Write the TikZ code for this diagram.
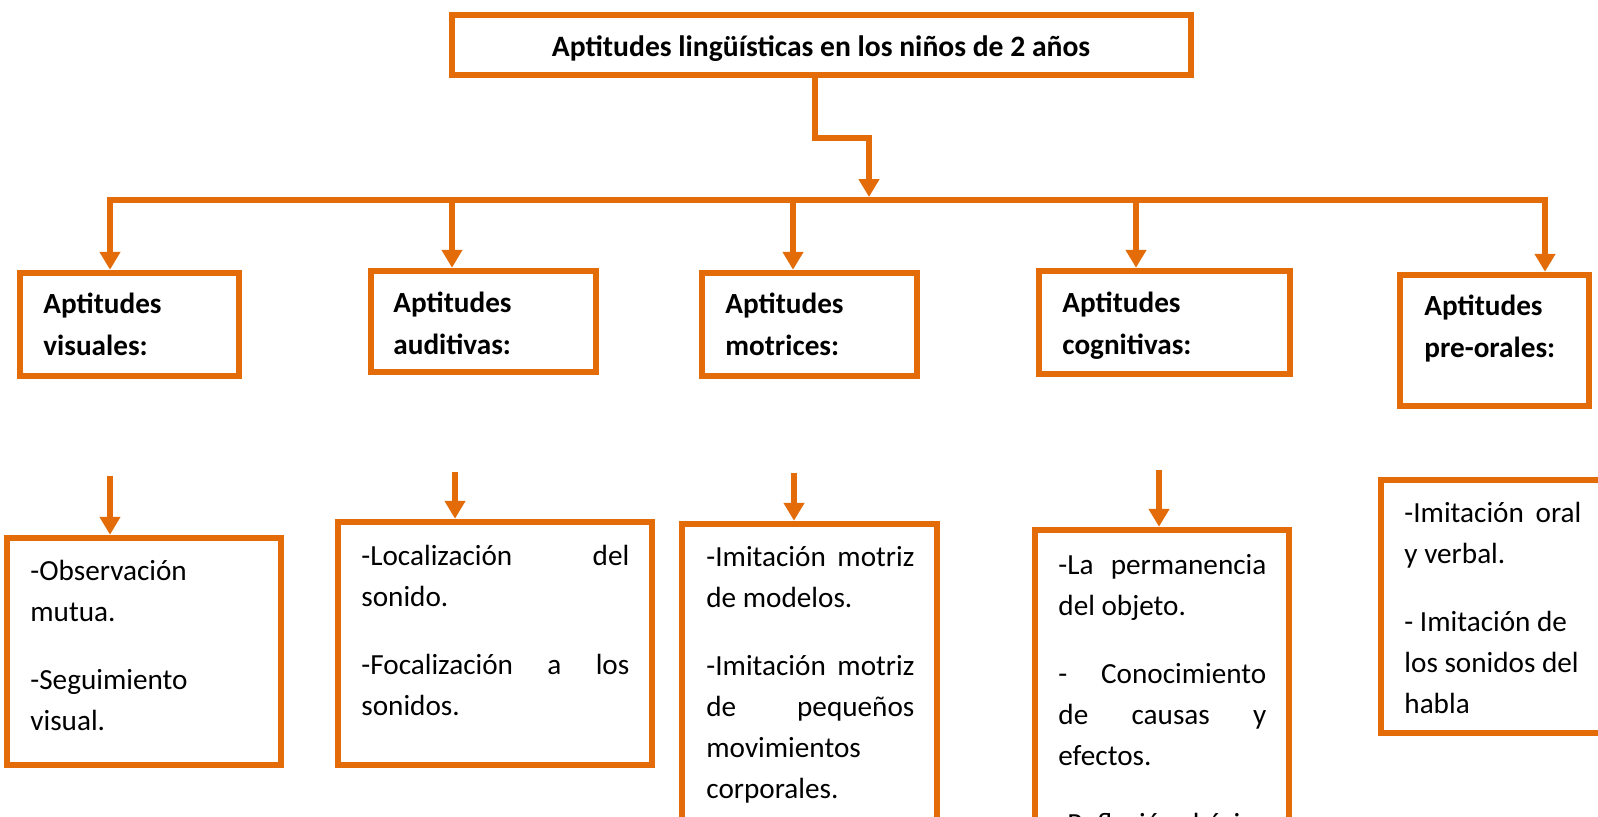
\documentclass[tikz,border=0pt]{standalone}
\usepackage{fontspec}
\setmainfont{Carlito}
\usetikzlibrary{arrows.meta,fit}
\definecolor{ora}{HTML}{E36C09}
\tikzset{
  boxf/.style={draw=ora, line width=3.25pt, inner sep=0pt},
  conn/.style={draw=ora, line width=3pt},
  arr/.style={conn, -{Triangle[width=10pt,length=9pt]}},
  ttl/.style={font=\bfseries\fontsize{14.8pt}{21pt}\selectfont, inner sep=0pt},
  head/.style={anchor=north west, inner sep=0pt, text width=100pt, align=flush left, font=\bfseries\fontsize{14.6pt}{21pt}\selectfont},
  body/.style={anchor=north west, inner sep=0pt, text width=#1, align=flush left, font=\fontsize{14.6pt}{20.5pt}\selectfont},
}
\newcommand\fl{\rule{0pt}{14pt}}
\newcommand\jl[2]{\makebox[#1][l]{#2}}
\begin{document}
\begin{tikzpicture}[x=0.5pt,y=-0.5pt]
\useasboundingbox (0,0) rectangle (1598,816);
\fill[white] (0,0) rectangle (1598,816);
\clip (0,0) rectangle (1598,816);

% boxes
\node[boxf, fit={(452,15) (1191,75)}] (title) {};
\node[boxf, fit={(20,273) (239,376)}] (vis2) {};
\node[boxf, fit={(371,271) (596,372)}] (aud2) {};
\node[boxf, fit={(702,273) (917,376)}] (mot2) {};
\node[boxf, fit={(1039,271) (1290,374)}] (cog2) {};
\node[boxf, fit={(1400,275) (1589,406)}] (pre2) {};
\node[boxf, fit={(7,538) (281,765)}] (vis3) {};
\node[boxf, fit={(338,522) (652,765)}] (aud3) {};
\node[boxf, fit={(682,524) (937,860)}] (mot3) {};
\node[boxf, fit={(1035,530) (1289,860)}] (cog3) {};
\node[boxf, fit={(1381,480) (1650,733)}] (pre3) {};

% texts
\node[ttl, anchor=base] (titlet) at (821,56) {Aptitudes lingüísticas en los niños de 2 años};
\node[head] (vis2t) at (43,285) {\fl Aptitudes\\visuales:};
\node[head] (aud2t) at (393,284) {\fl Aptitudes\\auditivas:};
\node[head] (mot2t) at (725,285) {\fl Aptitudes\\motrices:};
\node[head] (cog2t) at (1062,284) {\fl Aptitudes\\cognitivas:};
\node[head] (pre2t) at (1424,287) {\fl Aptitudes\\pre-orales:};

\node[body=125pt] (vis3t) at (30,552) {\fl\mbox{-Observación}\\mutua.\\[13.5pt]-Seguimiento\\visual.};
\node[body=140pt] (aud3t) at (361,537) {\fl\jl{134pt}{-Localización\hfill del}\\sonido.\\[13.5pt]\jl{134pt}{-Focalización\hfill a\hfill los}\\sonidos.};
\node[body=110pt] (mot3t) at (706,538) {\fl\jl{104pt}{-Imitación\hfill motriz}\\\mbox{de modelos.}\\[13.5pt]\jl{104pt}{-Imitación\hfill motriz}\\\jl{104pt}{de\hfill pequeños}\\movimientos\\corporales.};
\node[body=110pt] (cog3t) at (1058,546) {\fl\jl{104pt}{-La\hfill permanencia}\\\mbox{del objeto.}\\[13.5pt]\jl{104pt}{-\hfill Conocimiento}\\\jl{104pt}{de\hfill causas\hfill y}\\efectos.\\[13.5pt]\jl{104pt}{-Reflexión\hfill básica}};
\node[body=100pt] (pre3t) at (1404,494) {\fl\jl{88.5pt}{-Imitación\hfill oral}\\\mbox{y verbal.}\\[13.5pt]\mbox{- Imitación de}\\\mbox{los sonidos del}\\habla};

% connectors
\coordinate (t1) at (815,138);
\coordinate (j) at (869,197);
\draw[arr] (t1 |- title.south) -- (t1) -| (j);

\coordinate (bl) at (110,200);
\coordinate (b2) at (452,200);
\coordinate (b3) at (793,200);
\coordinate (b4) at (1136,200);
\coordinate (br) at (1545,200);
\draw[conn, line cap=rect] (bl) -- (br);
\draw[arr] (bl) -- (bl |- vis2.north);
\draw[arr] (b2) -- (b2 |- aud2.north);
\draw[arr] (b3) -- (b3 |- mot2.north);
\draw[arr] (b4) -- (b4 |- cog2.north);
\draw[arr] (br) -- (br |- pre2.north);

\coordinate (s1) at (110,476);
\coordinate (s2) at (455,472);
\coordinate (s3) at (794,473);
\coordinate (s4) at (1159,470);
\draw[arr] (s1) -- (s1 |- vis3.north);
\draw[arr] (s2) -- (s2 |- aud3.north);
\draw[arr] (s3) -- (s3 |- mot3.north);
\draw[arr] (s4) -- (s4 |- cog3.north);
\end{tikzpicture}
\end{document}
